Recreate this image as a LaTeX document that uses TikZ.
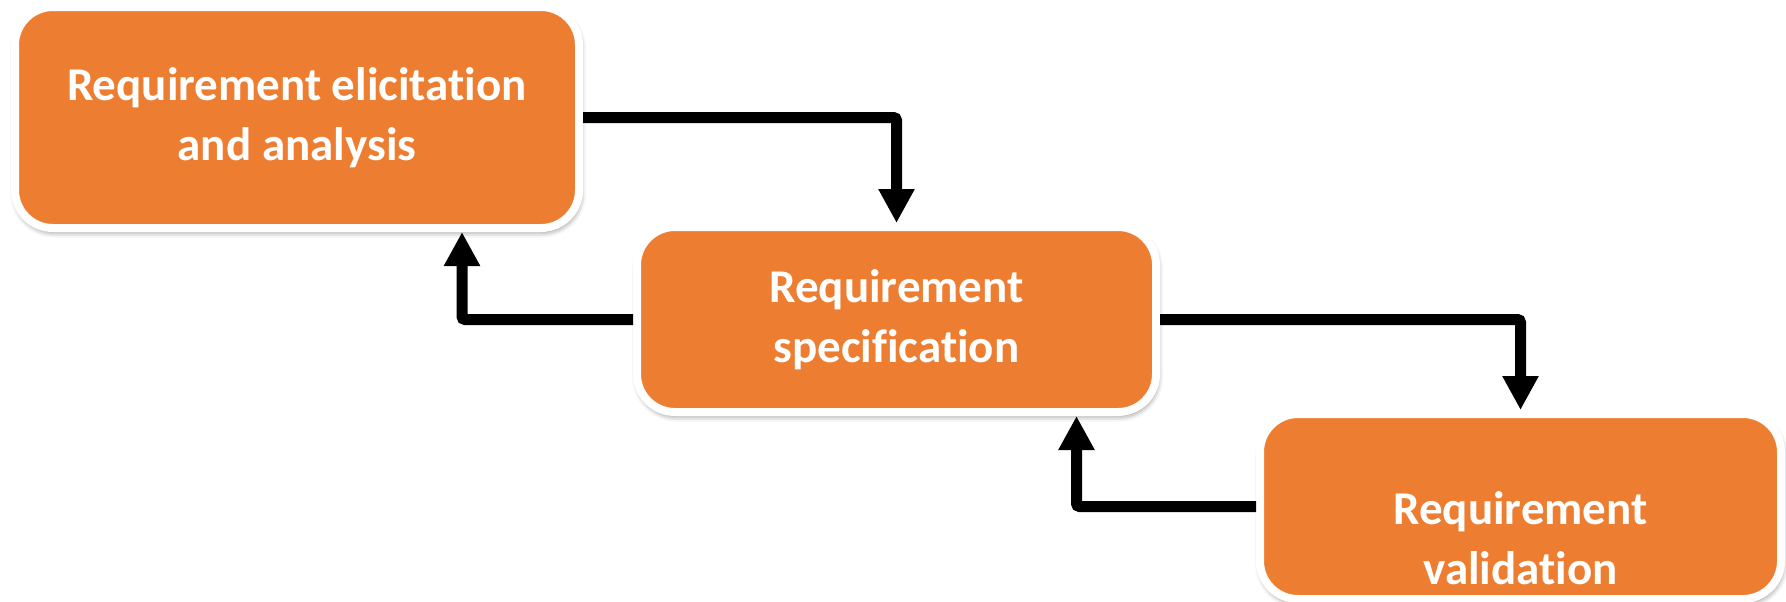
\documentclass[tikz,border=0pt]{standalone}
\usepackage{fontspec}
\setmainfont{Carlito}[Ligatures={NoCommon,NoRequired}]
\usepackage{xcolor}
\usetikzlibrary{arrows.meta, shadows.blur, positioning}
\definecolor{stageorange}{HTML}{ED7D31}

\begin{document}
\begin{tikzpicture}[
    x=0.5pt, y=-0.5pt,
    stage/.style={rectangle, rounded corners=19pt, fill=stageorange, draw=white, line width=4pt,
        blur shadow={shadow xshift=0.6pt, shadow yshift=-1.8pt, shadow blur radius=3pt, shadow opacity=55}},
    stagetext/.style={text=white, align=center, font=\fontsize{23.5}{30}\selectfont\bfseries},
    flow/.style={line width=5.5pt, rounded corners=1.5pt, -{Triangle[length=17pt,width=17pt]}}
]
\useasboundingbox (0,0) rectangle (1786,601);

% stages
\node[stage, stagetext, minimum width=282pt, minimum height=110.5pt] (elicit) at (297,117.5)
    {Requirement elicitation\\and analysis};
\node[stage, stagetext, minimum width=259.5pt, minimum height=92.5pt] (spec) at (896.5,319.5)
    {Requirement\\specification};
\node[stage, minimum width=260.5pt, minimum height=92.5pt,
    label={[stagetext, yshift=-16pt]center:{Requirement\\validation}}] (valid) at (1520.5,506.5) {};

% forward
\draw[flow] (elicit.east) -| (spec.north);
\draw[flow] (spec.east) -| (valid.north);

% back
\draw[flow] (spec.west) -| ([xshift=82.5pt]elicit.south);
\draw[flow] (valid.west) -| ([xshift=90pt]spec.south);
\end{tikzpicture}
\end{document}
